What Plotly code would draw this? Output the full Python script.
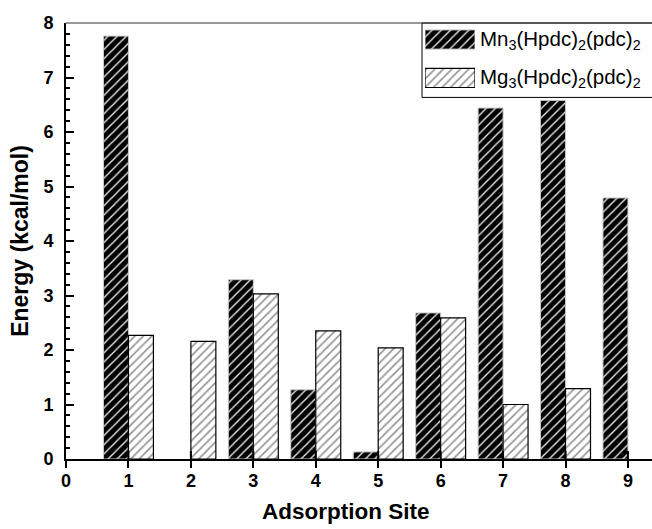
import plotly.graph_objects as go

# ---- data ----
sites = [1, 2, 3, 4, 5, 6, 7, 8, 9]
mn_energy = [7.76, None, 3.29, 1.27, 0.13, 2.68, 6.44, 6.58, 4.79]
mg_energy = [2.27, 2.16, 3.03, 2.35, 2.04, 2.59, 1.00, 1.29, None]
series_names = ["Mn<sub>3</sub>(Hpdc)<sub>2</sub>(pdc)<sub>2</sub>",
                "Mg<sub>3</sub>(Hpdc)<sub>2</sub>(pdc)<sub>2</sub>"]
x_ticks = [0, 1, 2, 3, 4, 5, 6, 7, 8, 9]
y_ticks = [0, 1, 2, 3, 4, 5, 6, 7, 8]
x_title = "Adsorption Site"
y_title = "Energy (kcal/mol)"

FONT = "Liberation Sans, Arial, sans-serif"

mn_style = dict(color="black", line=dict(color="#c8c8c8", width=1),
                pattern=dict(shape="/", bgcolor="black", fgcolor="#e6e6e6",
                             size=6.5, solidity=0.22, fillmode="replace"))
mg_style = dict(color="white", line=dict(color="black", width=1.2),
                pattern=dict(shape="/", bgcolor="white", fgcolor="#8c8c8c",
                             size=6, solidity=0.25, fillmode="replace"))

fig = go.Figure()
fig.add_trace(go.Bar(x=sites, y=mn_energy, name=series_names[0], marker=mn_style,
                     showlegend=False))
fig.add_trace(go.Bar(x=sites, y=mg_energy, name=series_names[1], marker=mg_style,
                     showlegend=False))

# legend swatches (custom legend drawn on its own small axes)
fig.add_trace(go.Bar(x=[1], y=[1], orientation="h", width=0.5, marker=mn_style,
                     xaxis="x2", yaxis="y2", showlegend=False, hoverinfo="skip"))
fig.add_trace(go.Bar(x=[1], y=[0], orientation="h", width=0.5, marker=mg_style,
                     xaxis="x2", yaxis="y2", showlegend=False, hoverinfo="skip"))

W, H = 652, 529
ml, mr, mt, mb = 66, 0, 23, 70

fig.update_layout(
    width=W, height=H,
    margin=dict(l=ml, r=mr, t=mt, b=mb, autoexpand=False),
    paper_bgcolor="white", plot_bgcolor="white",
    barmode="group", bargap=0.2, bargroupgap=0,
    font=dict(family=FONT, color="black"),
    xaxis=dict(range=[0, 9.385], tickvals=x_ticks, ticktext=[str(t) for t in x_ticks],
               ticks="outside", ticklen=7, tickwidth=2, tickcolor="black",
               showline=True, linewidth=2, linecolor="black",
               showgrid=False, zeroline=False, ticklabelstandoff=-3,
               tickfont=dict(size=18, weight="bold")),
    yaxis=dict(range=[0, 8], tickvals=y_ticks,
               ticks="inside", ticklen=8, tickwidth=2, tickcolor="black",
               minor=dict(dtick=0.2, ticks="inside", ticklen=4, tickwidth=1.5, tickcolor="black"),
               showline=True, linewidth=2, linecolor="black",
               showgrid=False, zeroline=False, ticklabelstandoff=7,
               tickfont=dict(size=18, weight="bold"),
               title=dict(text=y_title, font=dict(size=23, weight="bold"), standoff=8)),
    xaxis2=dict(domain=[359 / 586, 409 / 586], range=[0, 1], anchor="y2", visible=False,
                fixedrange=True),
    yaxis2=dict(domain=[(459.5 - 89.5) / 436.5, (459.5 - 28) / 436.5], range=[-0.3, 1.3],
                anchor="x2", visible=False, fixedrange=True),
)

# x-axis title
fig.add_annotation(x=(346 - ml) / 586, y=0, xref="paper", yref="paper", yshift=-52,
                   text=x_title, showarrow=False, xanchor="center", yanchor="middle",
                   font=dict(size=22.5, weight="bold", family=FONT, color="black"))

# legend labels
for i, name in enumerate(series_names):
    fig.add_annotation(x=1, y=1 - i, xref="x2", yref="y2", text=name, showarrow=False,
                       xanchor="left", yanchor="middle", xshift=3,
                       font=dict(size=20.5, family=FONT, color="black"))

# legend frame and top frame line
fig.add_shape(type="rect", xref="paper", yref="paper",
              x0=(422 - ml) / 586, x1=1.02, y0=(459.5 - 97.5) / 436.5, y1=1,
              line=dict(color="black", width=1), fillcolor="rgba(0,0,0,0)", layer="above")
fig.add_shape(type="line", xref="paper", yref="paper", x0=0, x1=1.02, y0=1, y1=1,
              line=dict(color="#333333", width=1.2), layer="above")

# x ticks also cross into the plot area
for t in x_ticks[1:]:
    fig.add_shape(type="line", xref="x", yref="y", ysizemode="pixel", yanchor=0,
                  x0=t, x1=t, y0=0, y1=8, line=dict(color="black", width=2), layer="above")

fig.write_html("out.html", config={"displayModeBar": False},
               post_script="document.body.style.margin='0';document.body.style.padding='0';")
